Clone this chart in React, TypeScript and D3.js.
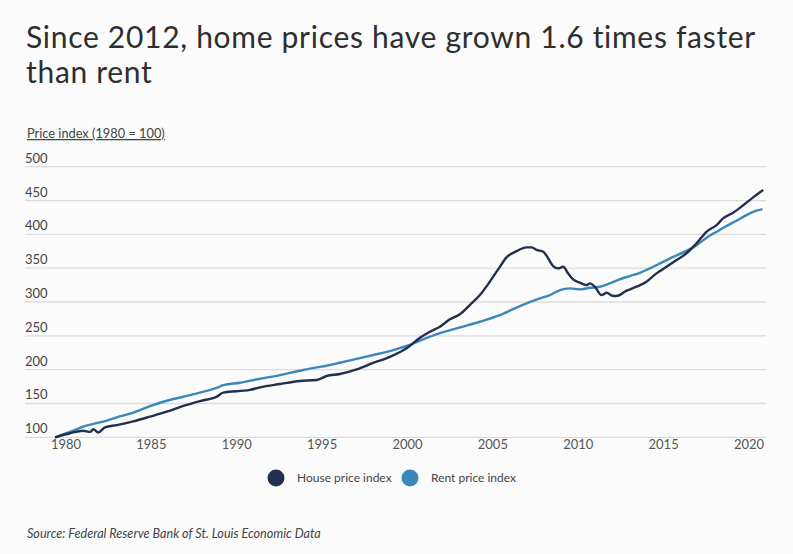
import React from "react";
import * as d3 from "d3";

const houseYears = [1979.36, 1980.23, 1981.01, 1981.41, 1981.6, 1981.89, 1982.28, 1982.97, 1983.94, 1984.92, 1985.9, 1986.87, 1987.85, 1988.82, 1989.21, 1990.77, 1991.36, 1992.53, 1993.7, 1994.68, 1995.26, 1996.04, 1997.02, 1997.99, 1998.97, 1999.95, 2000.73, 2001.31, 2001.9, 2002.48, 2003.07, 2003.65, 2004.24, 2004.82, 2005.41, 2005.8, 2006.39, 2006.97, 2007.27, 2007.56, 2007.95, 2008.24, 2008.53, 2008.82, 2009.12, 2009.41, 2009.7, 2010.09, 2010.49, 2010.68, 2010.97, 2011.36, 2011.66, 2012.0, 2012.24, 2012.83, 2013.41, 2014.0, 2014.58, 2015.17, 2015.76, 2016.34, 2016.93, 2017.51, 2018.1, 2018.48, 2019.07, 2019.66, 2020.24, 2020.83];
const houseValues = [100, 106, 109.7, 108, 111.8, 107, 114.8, 118, 123.6, 130.5, 137.8, 146.3, 153.6, 160, 166, 170, 173.9, 178.8, 183.2, 184.7, 190.6, 193.5, 200.4, 210, 219, 231.5, 247, 256, 263.5, 274.4, 282, 295.5, 310.3, 330, 352, 366, 375.3, 380.8, 380.8, 377, 374.3, 364.5, 353, 349.7, 352, 342, 333.5, 328.5, 325, 327.5, 322.6, 310.3, 313.7, 309.3, 308.8, 316.7, 322.6, 330, 342.3, 352, 362, 372, 386.7, 403.8, 413.7, 423.5, 432, 443, 454.6, 465.5];

const rentYears = [1979.36, 1980.23, 1981.01, 1982.28, 1982.97, 1983.94, 1984.92, 1985.9, 1986.87, 1987.85, 1988.82, 1989.21, 1990.19, 1991.36, 1992.53, 1993.7, 1994.68, 1995.26, 1996.04, 1997.02, 1997.99, 1998.97, 1999.95, 2000.73, 2001.9, 2003.07, 2004.24, 2005.41, 2006.58, 2007.75, 2008.34, 2008.93, 2009.51, 2010.09, 2010.68, 2011.26, 2011.85, 2012.43, 2013.02, 2013.61, 2014.19, 2014.78, 2015.37, 2016.15, 2016.93, 2017.51, 2018.1, 2018.68, 2019.27, 2019.85, 2020.44, 2020.79];
const rentValues = [100, 108, 115.7, 124, 129.5, 136.4, 146, 154, 160, 166, 173, 177, 180.7, 186.6, 192, 198.4, 203.4, 205.8, 210.2, 216, 221.6, 227.5, 235, 243, 254, 262.5, 270.8, 280.7, 294, 305.4, 310.3, 317.7, 320.2, 318.7, 321, 322.6, 327.6, 333.5, 338.4, 343.2, 349.7, 357, 364.5, 373.4, 384, 395, 403.8, 412.3, 420, 428.5, 435, 437.4];

const yTicks = [100, 150, 200, 250, 300, 350, 400, 450, 500];
const xTicks = [1980, 1985, 1990, 1995, 2000, 2005, 2010, 2015, 2020];

const seriesNames = ["House price index", "Rent price index"];
const seriesColors = ["#22304d", "#3b87b9"];

const titleLines = ["Since 2012, home prices have grown 1.6 times faster", "than rent"];
const axisTitle = "Price index (1980 = 100)";
const sourceText = "Source: Federal Reserve Bank of St. Louis Economic Data";

const W = 793;
const H = 554;
const FONT = "Lato, 'Open Sans', sans-serif";

export default function App() {
  const x = d3.scaleLinear().domain([1980, 2020]).range([66, 749]);
  const y = d3.scaleLinear().domain([100, 500]).range([437.3, 166.7]);

  const line = d3
    .line<[number, number]>()
    .x((d) => x(d[0]))
    .y((d) => y(d[1]))
    .curve(d3.curveMonotoneX);

  const houseData: [number, number][] = houseYears.map((yr, i) => [yr, houseValues[i]]);
  const rentData: [number, number][] = rentYears.map((yr, i) => [yr, rentValues[i]]);

  const gridLeft = 25;
  const gridRight = 766;

  return (
    <svg
      width={W}
      height={H}
      style={{ position: "absolute", left: 0, top: 0, display: "block" }}
      fontFamily={FONT}
    >
      <rect x={0} y={0} width={W} height={H} fill="#fbfbfb" />
      {titleLines.map((t, i) => (
        <text key={i} x={26} y={48 + i * 35} fontSize={30} fill="#2e2e2e" fontWeight={400} letterSpacing={0.7}>
          {t}
        </text>
      ))}
      <text x={27} y={138} fontSize={12.8} fill="#444" textDecoration="underline">
        {axisTitle}
      </text>
      {yTicks.map((t) => (
        <g key={t}>
          <line x1={gridLeft} x2={gridRight} y1={y(t)} y2={y(t)} stroke="#dcdcdc" strokeWidth={1.3} />
          <text x={25} y={y(t) - 4} fontSize={13} fill="#444">
            {t}
          </text>
        </g>
      ))}
      {xTicks.map((t) => (
        <text key={t} x={x(t)} y={449} fontSize={13} fill="#555" textAnchor="middle">
          {t}
        </text>
      ))}
      <path d={line(rentData) || ""} fill="none" stroke={seriesColors[1]} strokeWidth={2.4} strokeLinejoin="round" />
      <path d={line(houseData) || ""} fill="none" stroke={seriesColors[0]} strokeWidth={2.4} strokeLinejoin="round" />
      {seriesNames.map((n, i) => {
        const cx = i === 0 ? 276 : 410;
        return (
          <g key={n}>
            <circle cx={cx} cy={478} r={8.5} fill={seriesColors[i]} />
            <text x={cx + 21} y={482} fontSize={12} fill="#444">
              {n}
            </text>
          </g>
        );
      })}
      <text x={27} y={538} fontSize={12.6} fill="#444" fontStyle="italic">
        {sourceText}
      </text>
    </svg>
  );
}
